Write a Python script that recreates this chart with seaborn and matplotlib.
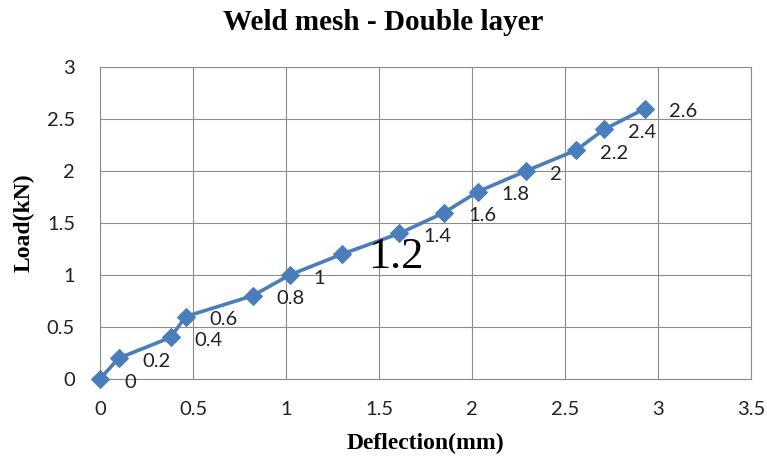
import matplotlib
matplotlib.use("Agg")
import matplotlib.pyplot as plt
import seaborn as sns
import pandas as pd

# Data
deflection = [0.0, 0.10, 0.38, 0.46, 0.82, 1.02, 1.30, 1.61, 1.85, 2.03, 2.29, 2.56, 2.71, 2.93]
load = [0.0, 0.2, 0.4, 0.6, 0.8, 1.0, 1.2, 1.4, 1.6, 1.8, 2.0, 2.2, 2.4, 2.6]
point_labels = ["0", "0.2", "0.4", "0.6", "0.8", "1", "1.2", "1.4", "1.6", "1.8", "2", "2.2", "2.4", "2.6"]
x_ticks = [0, 0.5, 1, 1.5, 2, 2.5, 3, 3.5]
x_tick_labels = ["0", "0.5", "1", "1.5", "2", "2.5", "3", "3.5"]
y_ticks = [0, 0.5, 1, 1.5, 2, 2.5, 3]
y_tick_labels = ["0", "0.5", "1", "1.5", "2", "2.5", "3"]

title = "Weld mesh - Double layer"
x_label = "Deflection(mm)"
y_label = "Load(kN)"

sns.set_theme(style="white")
plt.rcParams["font.family"] = ["Lato", "DejaVu Sans"]

df = pd.DataFrame({"Deflection": deflection, "Load": load})

fig = plt.figure(figsize=(7.67, 4.66), dpi=100)
ax = fig.add_axes([100 / 767, 1 - 379 / 466, 651 / 767, 312 / 466])

line_color = "#4A7EBB"
sns.lineplot(data=df, x="Deflection", y="Load", ax=ax, sort=False,
             color=line_color, linewidth=2.6, marker="D", markersize=9.5,
             markeredgecolor=line_color, markerfacecolor=line_color,
             zorder=3, clip_on=False)

ax.set_xlim(0, 3.5)
ax.set_ylim(0, 3)
ax.set_xticks(x_ticks)
ax.set_xticklabels(x_tick_labels)
ax.set_yticks(y_ticks)
ax.set_yticklabels(y_tick_labels)
ax.tick_params(axis="both", length=0, labelsize=14.5, colors="#222222")
ax.tick_params(axis="x", pad=16)
ax.tick_params(axis="y", pad=18)

ax.grid(True, color="#8c8c8c", linewidth=0.8)
for sp in ax.spines.values():
    sp.set_visible(True)
    sp.set_color("#8c8c8c")
    sp.set_linewidth(0.8)

# Data labels to the right of each point
for xv, yv, lab in zip(deflection, load, point_labels):
    if lab == "1.2":
        ax.annotate(lab, (xv, yv), xytext=(26, -3), textcoords="offset pixels",
                    ha="left", va="center", fontsize=32,
                    family=["Liberation Serif", "DejaVu Serif"], color="black")
    else:
        ax.annotate(lab, (xv, yv), xytext=(24, -3), textcoords="offset pixels",
                    ha="left", va="center", fontsize=14.5, color="#222222")

serif_bold = dict(family=["Liberation Serif", "DejaVu Serif"], fontweight="bold")
ax.set_xlabel(x_label, fontsize=17, color="black", **serif_bold)
ax.set_ylabel(y_label, fontsize=17, color="black", **serif_bold)
ax.xaxis.set_label_coords(0.5, -0.172)
ax.yaxis.set_label_coords(-0.1, 0.5)

fig.text(0.5, 1 - 22 / 466, title, ha="center", va="center", fontsize=21,
         color="black", **serif_bold)

fig.savefig("out.png", dpi=100)
